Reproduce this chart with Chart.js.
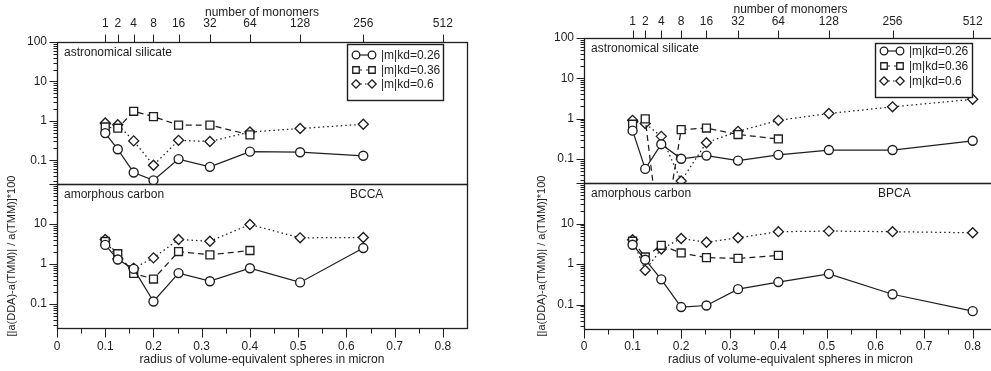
<!DOCTYPE html>
<html><head><meta charset="utf-8">
<script src="https://cdn.jsdelivr.net/npm/chart.js@4/dist/chart.umd.min.js"></script>
<style>
html,body{margin:0;padding:0;background:#fff;overflow:hidden;width:991px;height:371px;}
.c{position:absolute;}
</style></head><body>
<canvas class="c" id="lt" width="480" height="186" style="left:0;top:0"></canvas>
<canvas class="c" id="rt" width="491" height="186" style="left:520px;top:0"></canvas>
<canvas class="c" id="lb" width="480" height="211" style="left:0;top:160px"></canvas>
<canvas class="c" id="rb" width="491" height="211" style="left:520px;top:160px"></canvas>
<script>
// ---------- data ----------
const radii = [0.1, 0.126, 0.159, 0.2, 0.252, 0.317, 0.4, 0.504, 0.635, 0.8];
const monomerLabels = ['1','2','4','8','16','32','64','128','256','512'];
const xMajorTicks = [0, 0.1, 0.2, 0.3, 0.4, 0.5, 0.6, 0.7, 0.8];
const xTickLabels = ['0','0.1','0.2','0.3','0.4','0.5','0.6','0.7','0.8'];
const xMinorTicks = [0.05, 0.15, 0.25, 0.35, 0.45, 0.55, 0.65, 0.75];
const yDecades = [0.01, 0.1, 1, 10, 100];
const yMinorMultiples = [2, 3, 4, 5, 6, 7, 8, 9];
const yTopLabels = [0.1, 1, 10, 100];
const yBottomLabels = [0.1, 1, 10];
const seriesNames = ['|m|kd=0.26', '|m|kd=0.36', '|m|kd=0.6'];

// BCCA
const bccaSilicate026 = [0.49, 0.19, 0.049, 0.031, 0.107, 0.068, 0.165, 0.16, 0.13];
const bccaSilicate036 = [0.70, 0.65, 1.75, 1.28, 0.78, 0.78, 0.44];
const bccaSilicate060 = [0.88, 0.80, 0.31, 0.075, 0.32, 0.30, 0.52, 0.64, 0.82];
const bccaCarbon026 = [3.0, 1.29, 0.75, 0.115, 0.59, 0.37, 0.78, 0.345, 2.5];
const bccaCarbon036 = [3.65, 1.8, 0.58, 0.42, 2.04, 1.69, 2.17];
const bccaCarbon060 = [4.1, 1.34, 0.78, 1.42, 4.1, 3.7, 9.7, 4.5, 4.6];
// BPCA
const bpcaSilicate026 = [0.50, 0.056, 0.23, 0.10, 0.12, 0.09, 0.125, 0.165, 0.165, 0.28];
const bpcaSilicate036 = [0.72, 0.98, 0.0005, 0.53, 0.58, 0.40, 0.31];
const bpcaSilicate060 = [0.90, 0.75, 0.36, 0.028, 0.25, 0.48, 0.90, 1.33, 1.95, 3.0];
const bpcaCarbon026 = [3.0, 1.28, 0.42, 0.087, 0.095, 0.24, 0.36, 0.575, 0.18, 0.069];
const bpcaCarbon036 = [3.67, 1.5, 2.9, 1.88, 1.44, 1.38, 1.64];
const bpcaCarbon060 = [4.0, 0.7, 2.36, 4.27, 3.46, 4.44, 6.3, 6.5, 6.3, 5.9];

// ---------- styles ----------
const INK = '#1e1e1e';
const FONT = "'Liberation Sans', Arial, Helvetica, sans-serif";
Chart.defaults.font.family = FONT;
Chart.defaults.font.size = 12;
Chart.defaults.color = INK;
const seriesStyle = [
  {pointStyle: 'circle', radius: 4.5, legendR: 3.8, dash: []},
  {pointStyle: 'rect', radius: 5.6, legendR: 4.6, dash: [6, 4]},
  {pointStyle: 'rectRot', radius: 5, legendR: 4.2, dash: [1.5, 3]}
];
function ds(values, k) {
  const st = seriesStyle[k];
  return {
    label: seriesNames[k],
    data: values.map((v, i) => ({x: radii[i], y: v})),
    borderColor: INK, borderWidth: 1.25, borderDash: st.dash,
    pointStyle: st.pointStyle, pointRadius: st.radius,
    pointBackgroundColor: '#fff', pointBorderColor: INK, pointBorderWidth: 1.35,
    tension: 0, fill: false
  };
}

function marker(ctx, style, x, y, r) {
  ctx.beginPath();
  if (style === 'circle') ctx.arc(x, y, r, 0, Math.PI * 2);
  else if (style === 'rect') { const s = r * Math.SQRT1_2; ctx.rect(x - s, y - s, 2 * s, 2 * s); }
  else { ctx.moveTo(x, y - r); ctx.lineTo(x + r, y); ctx.lineTo(x, y + r); ctx.lineTo(x - r, y); ctx.closePath(); }
  ctx.fillStyle = '#fff'; ctx.fill();
  ctx.lineWidth = 1.3; ctx.strokeStyle = INK; ctx.stroke();
}

const deco = {
  id: 'deco',
  afterDraw(chart, args, o) {
    const ctx = chart.ctx, ca = chart.chartArea;
    const L = Math.round(ca.left) + 0.5, R = Math.round(ca.right) + 0.5;
    const T = Math.round(ca.top) + 0.5, B = Math.round(ca.bottom) + 0.5;
    ctx.save();
    ctx.strokeStyle = INK;
    ctx.lineWidth = 1.3;
    ctx.strokeRect(L, T, R - L, B - T);
    ctx.lineWidth = 1;
    ctx.beginPath();
    const ys = chart.scales.y;
    yDecades.forEach(d => {
      [1].concat(yMinorMultiples).forEach(m => {
        const v = d * m;
        if (v < ys.min * 0.9999 || v > ys.max * 1.0001) return;
        const p = Math.round(ys.getPixelForValue(v)) + 0.5;
        const len = m === 1 ? 8 : 4;
        ctx.moveTo(L - len, p); ctx.lineTo(L, p);
      });
    });
    if (o.top) {
      const xs = chart.scales.x2;
      radii.forEach(r => {
        const p = Math.round(xs.getPixelForValue(r)) + 0.5;
        ctx.moveTo(p, T); ctx.lineTo(p, T - 8);
      });
    }
    if (o.bottom) {
      const xs = chart.scales.x;
      xMajorTicks.forEach(v => { const p = Math.round(xs.getPixelForValue(v)) + 0.5; ctx.moveTo(p, B); ctx.lineTo(p, B + 9); });
      xMinorTicks.forEach(v => { const p = Math.round(xs.getPixelForValue(v)) + 0.5; ctx.moveTo(p, B); ctx.lineTo(p, B + 5); });
    }
    ctx.stroke();
    ctx.fillStyle = INK;
    ctx.font = '12px ' + FONT;
    ctx.textBaseline = 'middle';
    ctx.textAlign = 'left';
    (o.texts || []).forEach(t => ctx.fillText(t.text, ca.left + t.dx, ca.top + t.dy));
    if (o.legend) {
      const g = o.legend;
      ctx.fillStyle = '#fff';
      ctx.fillRect(g.x, g.y, g.w, g.h);
      ctx.lineWidth = 1.4; ctx.strokeStyle = INK;
      ctx.strokeRect(g.x + 0.5, g.y + 0.5, g.w, g.h);
      seriesStyle.forEach((st, k) => {
        const y = g.y + g.rows[k];
        const x1 = g.x + 9, x2 = g.x + 25;
        ctx.beginPath(); ctx.setLineDash(st.dash); ctx.lineWidth = 1.2;
        ctx.moveTo(x1, y); ctx.lineTo(x2, y); ctx.stroke(); ctx.setLineDash([]);
        marker(ctx, st.pointStyle, x1, y, st.legendR);
        marker(ctx, st.pointStyle, x2, y, st.legendR);
        ctx.fillStyle = INK;
        ctx.fillText(seriesNames[k], g.x + 34, y + 0.5);
      });
    }
    ctx.restore();
  }
};

function zeroPad(s) { s.paddingLeft = 0; s.paddingRight = 0; s.paddingTop = 0; s.paddingBottom = 0; }
function yScale(width, labels, title) {
  const sc = {
    type: 'logarithmic', position: 'left', min: 0.025, max: 100,
    afterBuildTicks: s => { s.ticks = labels.map(v => ({value: v})); },
    afterFit: s => { s.width = width; zeroPad(s); },
    ticks: {autoSkip: false, padding: 10, callback: v => (v >= 1 ? String(Math.round(v)) : String(v))},
    grid: {display: false, drawTicks: false}, border: {display: false}
  };
  if (title) sc.title = {display: true, text: '[|a(DDA)-a(TMM)| / a(TMM)]*100', font: {size: 11}, padding: {top: title, bottom: 0}};
  return sc;
}
function makeTop(id, sets, c) {
  return new Chart(document.getElementById(id), {
    type: 'line',
    data: {datasets: sets},
    options: {
      responsive: false, animation: false, devicePixelRatio: 1,
      layout: {padding: c.padding, autoPadding: false},
      plugins: {legend: {display: false}, tooltip: {enabled: false}, deco: c.deco},
      scales: {
        x: {type: 'linear', min: 0, max: 0.85, display: false},
        x2: {
          type: 'linear', position: 'top', min: 0, max: 0.85,
          afterBuildTicks: s => { s.ticks = radii.map(v => ({value: v})); },
          afterFit: s => { s.height = c.topH; zeroPad(s); },
          ticks: {autoSkip: false, maxRotation: 0, padding: c.tickPad, callback: (v, i) => monomerLabels[i]},
          grid: {display: false, drawTicks: false}, border: {display: false},
          title: {display: true, text: 'number of monomers', padding: {top: c.titlePad, bottom: 0}}
        },
        y: yScale(c.yW, yTopLabels, 0)
      }
    },
    plugins: [deco]
  });
}
function makeBottom(id, sets, c) {
  return new Chart(document.getElementById(id), {
    type: 'line',
    data: {datasets: sets},
    options: {
      responsive: false, animation: false, devicePixelRatio: 1,
      layout: {padding: c.padding, autoPadding: false},
      plugins: {legend: {display: false}, tooltip: {enabled: false}, deco: c.deco},
      scales: {
        x: {
          type: 'linear', position: 'bottom', min: 0, max: 0.85,
          afterBuildTicks: s => { s.ticks = xMajorTicks.map(v => ({value: v})); },
          afterFit: s => { s.height = c.botH; zeroPad(s); },
          ticks: {autoSkip: false, maxRotation: 0, padding: c.tickPad, callback: (v, i) => xTickLabels[i]},
          grid: {display: false, drawTicks: false}, border: {display: false},
          title: {display: true, text: 'radius of volume-equivalent spheres in micron', padding: {top: 0, bottom: 4}}
        },
        y: yScale(c.yW, yBottomLabels, c.yTitlePad)
      }
    },
    plugins: [deco]
  });
}

makeTop('lt', [ds(bccaSilicate026, 0), ds(bccaSilicate036, 1), ds(bccaSilicate060, 2)], {
  padding: {left: 0, right: 13, top: 0, bottom: 2}, topH: 42, yW: 57, tickPad: 11, titlePad: 5.5,
  deco: {top: true, texts: [{text: 'astronomical silicate', dx: 7, dy: 11}],
         legend: {x: 347, y: 44, w: 96, h: 56, rows: [11, 26, 40]}}
});
makeTop('rt', [ds(bpcaSilicate026, 0), ds(bpcaSilicate036, 1), ds(bpcaSilicate060, 2)], {
  padding: {left: 0, right: 14, top: 0, bottom: 3}, topH: 38, yW: 64, tickPad: 9, titlePad: 2.3,
  deco: {top: true, texts: [{text: 'astronomical silicate', dx: 7, dy: 11}],
         legend: {x: 355, y: 43, w: 97, h: 54, rows: [8, 23, 38]}}
});
makeBottom('lb', [ds(bccaCarbon026, 0), ds(bccaCarbon036, 1), ds(bccaCarbon060, 2)], {
  padding: {left: 0, right: 13, top: 24, bottom: 0}, botH: 43, yW: 57, tickPad: 11, yTitlePad: 5,
  deco: {bottom: true, texts: [{text: 'amorphous carbon', dx: 7, dy: 11}, {text: 'BCCA', dx: 293, dy: 11}]}
});
makeBottom('rb', [ds(bpcaCarbon026, 0), ds(bpcaCarbon036, 1), ds(bpcaCarbon060, 2)], {
  padding: {left: 0, right: 14, top: 23, bottom: 0}, botH: 42, yW: 64, tickPad: 10, yTitlePad: 15,
  deco: {bottom: true, texts: [{text: 'amorphous carbon', dx: 7, dy: 11}, {text: 'BPCA', dx: 294, dy: 11}]}
});
</script>
</body></html>
